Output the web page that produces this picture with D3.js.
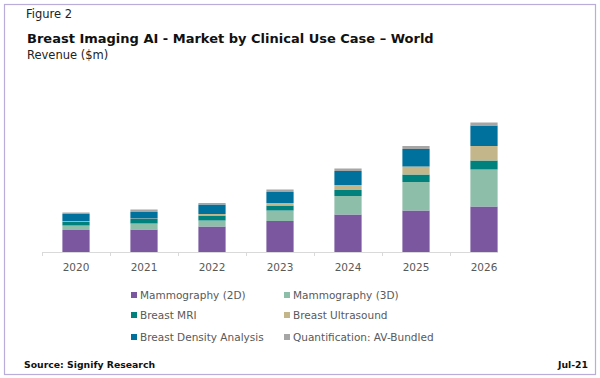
<!DOCTYPE html>
<html>
<head>
<meta charset="utf-8">
<script src="https://cdn.jsdelivr.net/npm/d3@7"></script>
<style>
  html, body { margin: 0; padding: 0; background: #ffffff; }
  svg { display: block; }
</style>
</head>
<body>
<svg id="chart" width="600" height="378"></svg>
<script>
// ---------------- DATA ----------------
const years = ["2020", "2021", "2022", "2023", "2024", "2025", "2026"];
const seriesNames = ["Mammography (2D)", "Mammography (3D)", "Breast MRI", "Breast Ultrasound", "Breast Density Analysis", "Quantification: AV-Bundled"];
const mammography2D = [44, 45, 51, 62, 75, 83, 91];
const mammography3D = [9, 12, 12, 21, 37, 57, 74];
const breastMRI = [8, 9, 10, 10, 12, 15, 18];
const breastUltrasound = [1, 1, 3, 5, 10, 16, 29];
const breastDensity = [14, 13, 19, 22, 28, 35, 41];
const quantification = [3, 5, 3, 5, 5, 6, 6];
const seriesColors = ["#7B57A0", "#8CBEAA", "#00817D", "#C3B68B", "#00709C", "#A6A6A6"];

// ---------------- BUILD TABLE ----------------
const seriesValues = [mammography2D, mammography3D, breastMRI, breastUltrasound, breastDensity, quantification];
const table = years.map((y, i) => {
  const row = { year: y };
  seriesNames.forEach((s, j) => { row[s] = seriesValues[j][i]; });
  return row;
});
const stacked = d3.stack().keys(seriesNames)(table);

const svg = d3.select("#chart");

// frame
svg.append("rect")
  .attr("x", 4.5).attr("y", 4.5).attr("width", 591).attr("height", 370)
  .attr("fill", "#ffffff").attr("stroke", "#B9AEDA").attr("stroke-width", 1.2);

// scales
const x = d3.scaleBand().domain(years).range([42, 518]).paddingInner(0.6).paddingOuter(0.3);
const y = d3.scaleLinear().domain([0, 280]).range([252, 112]);

// bars
const layer = svg.append("g").selectAll("g").data(stacked).join("g")
  .attr("fill", (d, i) => seriesColors[i]);
layer.selectAll("rect").data(d => d).join("rect")
  .attr("x", d => x(d.data.year))
  .attr("width", x.bandwidth())
  .attr("y", d => y(d[1]))
  .attr("height", d => y(d[0]) - y(d[1]));

// axis
const axisY = y(0);
svg.append("line")
  .attr("x1", 42).attr("x2", 498).attr("y1", axisY + 0.5).attr("y2", axisY + 0.5)
  .attr("stroke", "#D9D9D9").attr("stroke-width", 1);
const step = x.step();
svg.append("g").selectAll("line").data(years).join("line")
  .attr("x1", d => Math.round(x(d) - step * x.paddingInner() / 2) + 0.5)
  .attr("x2", d => Math.round(x(d) - step * x.paddingInner() / 2) + 0.5)
  .attr("y1", axisY).attr("y2", axisY + 4)
  .attr("stroke", "#D9D9D9");

const xAxis = d3.axisBottom(x).tickSize(0).tickPadding(0);
const gx = svg.append("g").attr("transform", `translate(0,${axisY + 12})`).call(xAxis);
gx.select(".domain").remove();
gx.selectAll("text")
  .attr("font-family", "DejaVu Sans, sans-serif")
  .attr("font-size", "10.5px")
  .attr("fill", "#595959");

// titles
svg.append("text").text("Figure 2")
  .attr("x", 26).attr("y", 18)
  .attr("font-family", "DejaVu Sans, sans-serif").attr("font-size", "11.5px").attr("fill", "#222");
svg.append("text").text("Breast Imaging AI - Market by Clinical Use Case \u2013 World")
  .attr("x", 27).attr("y", 43)
  .attr("font-family", "DejaVu Sans, sans-serif").attr("font-weight", "bold")
  .attr("font-size", "13px").attr("fill", "#111");
svg.append("text").text("Revenue ($m)")
  .attr("x", 27).attr("y", 59)
  .attr("font-family", "DejaVu Sans, sans-serif").attr("font-size", "11.5px").attr("fill", "#222");

// legend
const legendPos = [
  [131, 295], [284, 295],
  [131, 315], [284, 315],
  [131, 337], [284, 337]
];
const lg = svg.append("g").selectAll("g").data(seriesNames).join("g")
  .attr("transform", (d, i) => `translate(${legendPos[i][0]},${legendPos[i][1]})`);
lg.append("rect").attr("x", 0).attr("y", -3).attr("width", 6).attr("height", 6)
  .attr("fill", (d, i) => seriesColors[i]);
lg.append("text").text(d => d)
  .attr("x", 9).attr("y", 4)
  .attr("font-family", "DejaVu Sans, sans-serif").attr("font-size", "10.5px").attr("fill", "#595959");

// footer
svg.append("text").text("Source: Signify Research")
  .attr("x", 24).attr("y", 368)
  .attr("font-family", "DejaVu Sans, sans-serif").attr("font-weight", "bold")
  .attr("font-size", "9.3px").attr("fill", "#111");
svg.append("text").text("Jul-21")
  .attr("x", 588).attr("y", 368).attr("text-anchor", "end")
  .attr("font-family", "DejaVu Sans, sans-serif").attr("font-weight", "bold")
  .attr("font-size", "9.3px").attr("fill", "#111");
</script>
</body>
</html>
